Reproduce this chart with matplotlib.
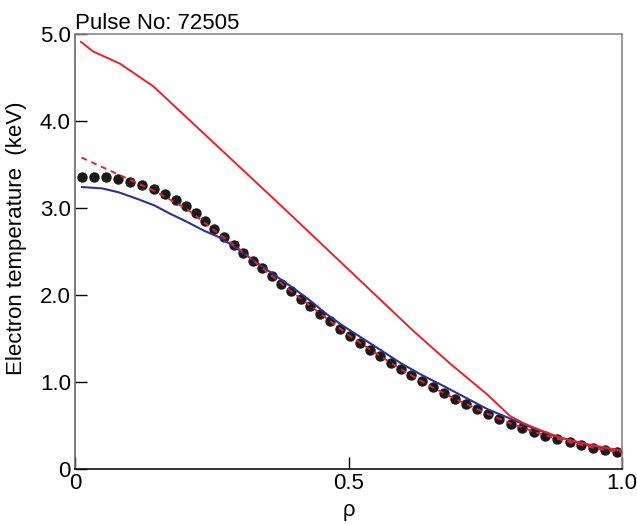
import matplotlib
matplotlib.use("Agg")
from matplotlib import pyplot as plt

plt.rcParams['font.family'] = ['Liberation Sans', 'DejaVu Sans']

# measured profile (black dots)
rho_meas = [0.012, 0.034, 0.057, 0.079, 0.101, 0.122, 0.144, 0.165, 0.184, 0.203,
            0.221, 0.238, 0.255, 0.272, 0.290, 0.308, 0.325, 0.342, 0.360, 0.377,
            0.394, 0.413, 0.430, 0.448, 0.466, 0.484, 0.502, 0.521, 0.540, 0.558,
            0.577, 0.596, 0.615, 0.634, 0.654, 0.675, 0.695, 0.714, 0.735, 0.755,
            0.776, 0.797, 0.818, 0.839, 0.860, 0.882, 0.904, 0.925, 0.947, 0.969,
            0.991]
te_meas = [3.356, 3.361, 3.353, 3.329, 3.303, 3.268, 3.218, 3.165, 3.096, 3.022,
           2.941, 2.849, 2.753, 2.665, 2.577, 2.488, 2.396, 2.308, 2.224, 2.131,
           2.047, 1.950, 1.870, 1.786, 1.705, 1.613, 1.532, 1.448, 1.371, 1.298,
           1.221, 1.144, 1.075, 1.006, 0.937, 0.876, 0.806, 0.749, 0.688, 0.630,
           0.570, 0.522, 0.472, 0.426, 0.384, 0.342, 0.308, 0.273, 0.242, 0.219,
           0.196]

# red solid
rho_red = [0.011, 0.033, 0.082, 0.143, 0.366, 0.430, 0.618, 0.686, 0.753, 0.795,
           0.819, 0.845, 0.887, 0.940, 1.000]
te_red = [4.91, 4.80, 4.66, 4.40, 3.09, 2.71, 1.59, 1.21, 0.86, 0.61,
          0.53, 0.46, 0.36, 0.28, 0.21]

# red dashed
rho_dash = [0.012, 0.076, 0.143, 0.204, 0.259, 0.30, 0.35, 0.40, 0.45, 0.50,
            0.55, 0.60, 0.65, 0.70, 0.75, 0.80, 0.85, 0.90, 0.95, 1.00]
te_dash = [3.58, 3.395, 3.203, 2.992, 2.722, 2.53, 2.27, 2.02, 1.78, 1.54,
           1.33, 1.13, 0.95, 0.79, 0.645, 0.515, 0.405, 0.315, 0.24, 0.19]

# blue solid
rho_blue = [0.013, 0.050, 0.080, 0.113, 0.145, 0.174, 0.205, 0.235, 0.265, 0.290,
            0.326, 0.360, 0.399, 0.430, 0.460, 0.490, 0.521, 0.558, 0.596, 0.634,
            0.675, 0.714, 0.755, 0.797, 0.839, 0.882, 0.925, 0.969, 1.000]
te_blue = [3.241, 3.225, 3.180, 3.107, 3.030, 2.934, 2.840, 2.742, 2.660, 2.560,
           2.400, 2.250, 2.080, 1.935, 1.780, 1.645, 1.520, 1.370, 1.215, 1.080,
           0.950, 0.820, 0.685, 0.575, 0.465, 0.370, 0.295, 0.235, 0.205]

xticks = [0, 0.5, 1.0]
xticklabels = ['0', '0.5', '1.0']
yticks = [0, 1, 2, 3, 4, 5]
yticklabels = ['0', '1.0', '2.0', '3.0', '4.0', '5.0']

fig = plt.figure(figsize=(6.37, 5.25), dpi=100)
ax = fig.add_axes([0.1177, 0.1067, 0.8588, 0.8285])

red = '#e8212b'
blue = '#2e3192'

ax.plot(rho_meas, te_meas, 'o', color='#1a1a1a', markersize=6.5, zorder=2)
ax.plot(rho_blue, te_blue, '-', color=blue, lw=1.5, zorder=3)
ax.plot(rho_red, te_red, '-', color=red, lw=1.4, zorder=3)
ax.plot(rho_dash, te_dash, '--', color=red, lw=1.4, dashes=(3, 2.5), zorder=4)

ax.set_xlim(0, 1.0)
ax.set_ylim(0, 5.0)
ax.set_xticks(xticks)
ax.set_xticklabels(xticklabels)
ax.set_yticks(yticks)
ax.set_yticklabels(yticklabels)
ax.tick_params(direction='in', length=8.6, width=1, labelsize=16, pad=3)

ax.spines['bottom'].set_color('#111111')
ax.spines['left'].set_color('#666666')
ax.spines['top'].set_color('#888888')
ax.spines['right'].set_color('#888888')
for s in ax.spines.values():
    s.set_linewidth(1.2)

ax.set_xlabel('ρ', fontsize=16, labelpad=4)
ax.set_ylabel('Electron temperature  (keV)', fontsize=16)
ax.yaxis.set_label_coords(-0.088, 0.53)
ax.set_title('Pulse No: 72505', loc='left', fontsize=16, pad=3)

plt.savefig('out.png', dpi=100)
